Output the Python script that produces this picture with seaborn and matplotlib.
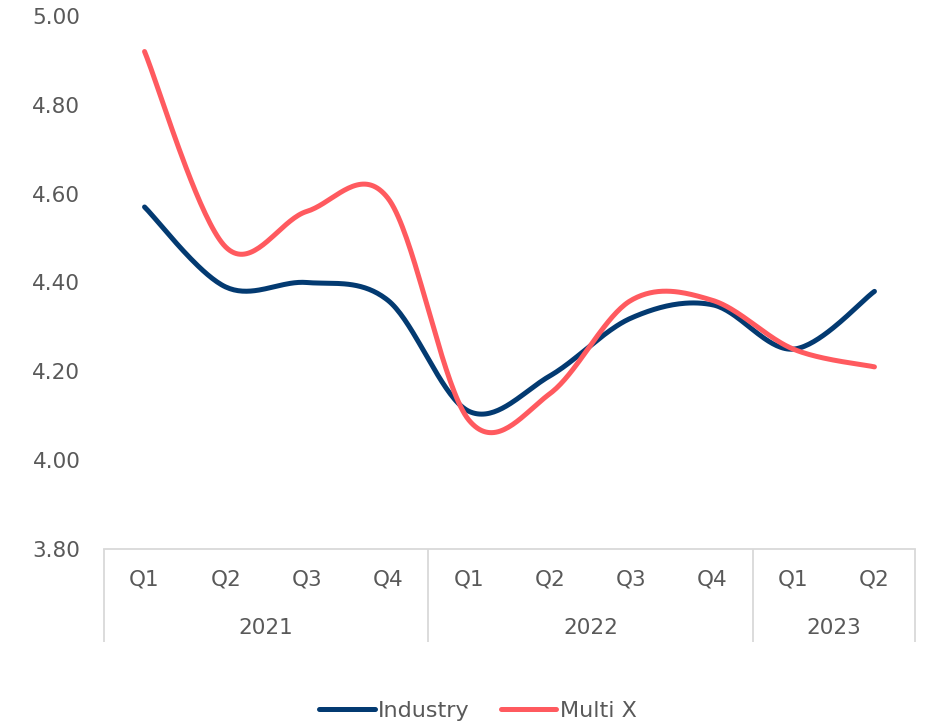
import numpy as np
import pandas as pd
import matplotlib
matplotlib.use("Agg")
import matplotlib.pyplot as plt
from matplotlib.lines import Line2D
import seaborn as sns

# Quarterly series
years = ["2021", "2021", "2021", "2021", "2022", "2022", "2022", "2022", "2023", "2023"]
quarters = ["Q1", "Q2", "Q3", "Q4", "Q1", "Q2", "Q3", "Q4", "Q1", "Q2"]
industry = [4.57, 4.39, 4.40, 4.36, 4.11, 4.19, 4.32, 4.35, 4.25, 4.38]
multi_x = [4.92, 4.48, 4.56, 4.59, 4.09, 4.15, 4.36, 4.36, 4.25, 4.21]
series_names = ["Industry", "Multi X"]
colors = ["#033A71", "#FF5A5F"]
yticks = [3.80, 4.00, 4.20, 4.40, 4.60, 4.80, 5.00]

TEXT = "#595959"
GRID = "#D9D9D9"
FS = 15.5


def smooth(values, steps=40):
    """Cubic Bezier smoothing with control points at 1/6 of neighbour chords."""
    x = np.arange(len(values), dtype=float)
    y = np.asarray(values, dtype=float)
    pts = np.column_stack([x, y])
    n = len(pts)
    out = []
    t = np.linspace(0, 1, steps)[:, None]
    for i in range(n - 1):
        p0 = pts[i]
        p3 = pts[i + 1]
        prev = pts[i - 1] if i > 0 else pts[i]
        nxt = pts[i + 2] if i + 2 < n else pts[i + 1]
        c1 = p0 + (p3 - prev) / 6.0
        c2 = p3 - (nxt - p0) / 6.0
        seg = ((1 - t) ** 3) * p0 + 3 * ((1 - t) ** 2) * t * c1 + 3 * (1 - t) * t ** 2 * c2 + t ** 3 * p3
        out.append(seg if i == 0 else seg[1:])
    return np.vstack(out)


frames = []
for name, vals in zip(series_names, [industry, multi_x]):
    curve = smooth(vals)
    frames.append(pd.DataFrame({"x": curve[:, 0], "value": curve[:, 1], "series": name}))
df = pd.concat(frames, ignore_index=True)

sns.set_theme(style="white")
plt.rcParams["font.family"] = ["DejaVu Sans"]

W, H = 926, 725
fig = plt.figure(figsize=(W / 100, H / 100), dpi=100)
ax = fig.add_axes([104 / W, 1 - 549 / H, (915 - 104) / W, (549 - 16) / H])

sns.lineplot(data=df, x="x", y="value", hue="series", palette=colors,
             hue_order=series_names, sort=False, estimator=None,
             linewidth=3.6, ax=ax, legend=False)
for ln in ax.get_lines():
    ln.set_solid_capstyle("round")

ax.set_xlim(-0.5, len(quarters) - 0.5)
ax.set_ylim(3.8, 5.0)
ax.set_yticks(yticks)
ax.set_yticklabels([f"{v:.2f}" for v in yticks], color=TEXT, fontsize=FS)
ax.tick_params(axis="y", length=0, pad=17)
ax.set_xticks([])
ax.set_xlabel("")
ax.set_ylabel("")

for side in ["top", "right", "left"]:
    ax.spines[side].set_visible(False)
ax.spines["bottom"].set_color(GRID)
ax.spines["bottom"].set_linewidth(1.3)

# Two-level category axis: quarters above, years below
trans = ax.get_xaxis_transform()
depth = -(642 - 549) / (549 - 16)
for i, q in enumerate(quarters):
    ax.text(i, -(580 - 549) / (549 - 16), q, transform=trans, ha="center", va="center",
            color=TEXT, fontsize=FS)

groups = []
for i, yr in enumerate(years):
    if not groups or groups[-1][0] != yr:
        groups.append([yr, i, i])
    else:
        groups[-1][2] = i

bounds = [-0.5] + [g[2] + 0.5 for g in groups]
for b in bounds:
    ax.plot([b, b], [0, depth], transform=trans, color=GRID, linewidth=1.3,
            clip_on=False, solid_capstyle="butt")
for yr, a, b in groups:
    ax.text((a + b) / 2, -(628 - 549) / (549 - 16), yr, transform=trans, ha="center",
            va="center", color=TEXT, fontsize=FS)

handles = [Line2D([0], [0], color=c, linewidth=3.6, solid_capstyle="round") for c in colors]
leg = fig.legend(handles, series_names, loc="center", bbox_to_anchor=(478 / W, 1 - 711 / H),
                 ncol=2, frameon=False, fontsize=FS + 0.5, handlelength=2.5,
                 handletextpad=0.15, columnspacing=1.4)
for t in leg.get_texts():
    t.set_color(TEXT)

fig.savefig("out.png", dpi=100)
